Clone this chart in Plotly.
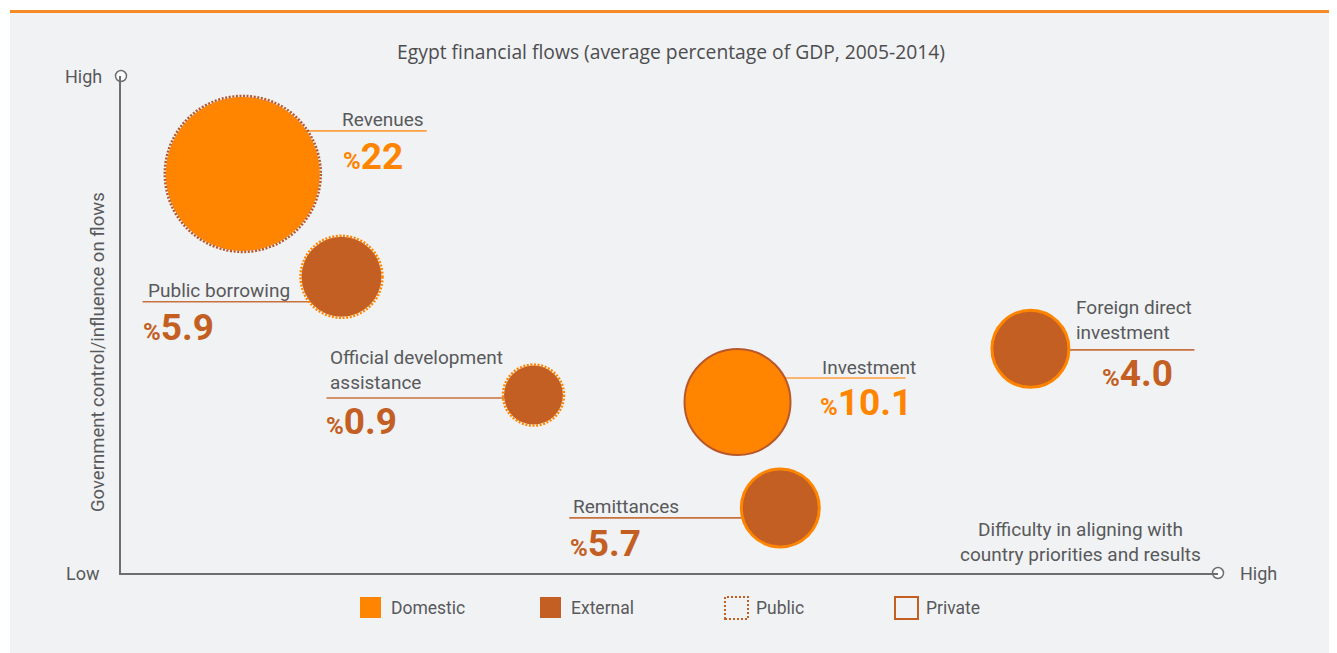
import plotly.graph_objects as go

# ---------------- data ----------------
flows = ["Revenues", "Public borrowing", "Official development<br>assistance",
         "Investment", "Remittances", "Foreign direct<br>investment"]
share_gdp = [22, 5.9, 0.9, 10.1, 5.7, 4.0]
share_text = ["22", "5.9", "0.9", "10.1", "5.7", "4.0"]
origin = ["Domestic", "External", "External", "Domestic", "External", "External"]
ownership = ["Public", "Public", "Public", "Private", "Private", "Private"]
# qualitative positions (0 = low, 10 = high)
difficulty = [1.11, 2.01, 3.76, 5.62, 6.01, 8.29]
gov_control = [8.03, 5.96, 3.58, 3.44, 1.31, 4.51]

title_text = "Egypt financial flows (average percentage of GDP, 2005-2014)"
y_title = "Government control/influence on flows"
x_title = "Difficulty in aligning with<br>country priorities and results"
legend_items = ["Domestic", "External", "Public", "Private"]

# ---------------- styles ----------------
FONT = "Roboto"
C_DOM = "#FF8500"
C_EXT = "#C35F23"
C_TXT = "#58595B"
C_AXIS = "#6D6E70"
C_BG = "#F1F2F4"
fill_col = {"Domestic": C_DOM, "External": C_EXT}
line_col = {"Domestic": "#FFA040", "External": "#C8703E"}
border_col = {"Domestic": "#B8572A", "External": C_DOM}

bubble_diameter = [154, 80, 59, 106, 78, 77]   # px, as drawn in the infographic

# label layout relative to bubble centre (px; dy positive = up)
# (name_dx, name_dy, name_anchor, value_dx, value_dy, line_dx0, line_dx1, line_dy)
label_layout = [
    (183, 54, "right", 98, 17, 50, 184, 43),
    (-196, -14, "left", -201, -51, -199, -10, -25),
    (-205, 25, "left", -209, -26, -207, -10, -3),
    (180, 35, "right", 80, 0, 30, 168, 24),
    (-209, 1, "left", -212, -36, -211, -10, -10),
    (44, 29, "left", 70, -25, 10, 164, -1),
]

OFF = 8                      # page body margin in the browser
W, H = 1337 - OFF, 653 - OFF
ML, MT = 121 - OFF, 76 - OFF
PW, PH = 1097, 497
MR = W - ML - PW
MB = H - MT - PH


def px_x(px):
    """screen x (reference picture) -> paper x"""
    return (px - OFF - ML) / PW


def px_y(py):
    """screen y (reference picture) -> paper y"""
    return (MT + PH - (py - OFF)) / PH


fig = go.Figure()

# bubbles
for org in ["Domestic", "External"]:
    idx = [i for i in range(len(flows)) if origin[i] == org]
    fig.add_trace(go.Scatter(
        x=[difficulty[i] for i in idx],
        y=[gov_control[i] for i in idx],
        mode="markers",
        name=org,
        showlegend=False,
        cliponaxis=False,
        text=[flows[i].replace("<br>", " ") for i in idx],
        customdata=[share_gdp[i] for i in idx],
        hovertemplate="%{text}: %{customdata}% of GDP<extra></extra>",
        marker=dict(
            size=[bubble_diameter[i] for i in idx],
            color=fill_col[org],
            opacity=1,
            line=dict(
                color=[border_col[org] for i in idx],
                width=[0 if ownership[i] == "Public" else (2 if org == "Domestic" else 3) for i in idx],
            ),
        ),
    ))

# axis end circles
fig.add_trace(go.Scatter(
    x=[0, 10], y=[10, 0], mode="markers", showlegend=False, hoverinfo="skip",
    cliponaxis=False,
    marker=dict(size=11, color="white", line=dict(color=C_AXIS, width=1.5)),
))

shapes = []
# panel background and top orange rule
shapes.append(dict(type="rect", xref="paper", yref="paper", layer="below",
                   x0=px_x(10), x1=px_x(1337 + 5), y0=px_y(653 + 5), y1=px_y(12),
                   fillcolor=C_BG, line=dict(width=0)))
shapes.append(dict(type="rect", xref="paper", yref="paper", layer="below",
                   x0=px_x(10), x1=px_x(1337 + 5), y0=px_y(13), y1=px_y(10),
                   fillcolor="#F68B26", line=dict(width=0)))

annotations = []
for i in range(len(flows)):
    ndx, ndy, nanc, vdx, vdy, l0, l1, ldy = label_layout[i]
    col = fill_col[origin[i]]
    shapes.append(dict(type="line", xref="x", yref="y", layer="below",
                       xsizemode="pixel", ysizemode="pixel",
                       xanchor=difficulty[i], yanchor=gov_control[i],
                       x0=l0, x1=l1, y0=ldy, y1=ldy,
                       line=dict(color=line_col[origin[i]], width=1.6)))
    if ownership[i] == "Public":
        r = bubble_diameter[i] / 2 + 1
        shapes.append(dict(type="circle", xref="x", yref="y", layer="above",
                           xsizemode="pixel", ysizemode="pixel",
                           xanchor=difficulty[i], yanchor=gov_control[i],
                           x0=-r, x1=r, y0=-r, y1=r,
                           line=dict(color=border_col[origin[i]], width=2.5, dash="2px,1.6px")))
    annotations.append(dict(
        x=difficulty[i], y=gov_control[i], xref="x", yref="y",
        xshift=ndx, yshift=ndy, xanchor=nanc, yanchor="middle", align="left",
        text=flows[i], showarrow=False,
        font=dict(family=FONT, size=19, color=C_TXT),
    ))
    annotations.append(dict(
        x=difficulty[i], y=gov_control[i], xref="x", yref="y",
        xshift=vdx, yshift=vdy, xanchor="left", yanchor="middle",
        text="<b><span style='font-size:24px'>%</span>" + share_text[i] + "</b>",
        showarrow=False,
        font=dict(family=FONT, size=37, color=col),
    ))

annotations += [
    dict(x=0, y=1, xref="paper", yref="paper", xshift=-17, xanchor="right", yanchor="middle",
         text="High", showarrow=False, font=dict(family=FONT, size=18, color=C_TXT)),
    dict(x=0, y=0, xref="paper", yref="paper", xshift=-19, xanchor="right", yanchor="middle",
         text="Low", showarrow=False, font=dict(family=FONT, size=18, color=C_TXT)),
    dict(x=1, y=0, xref="paper", yref="paper", xshift=20, xanchor="left", yanchor="middle",
         text="High", showarrow=False, font=dict(family=FONT, size=18, color=C_TXT)),
    dict(x=0, y=px_y(352), xref="paper", yref="paper", xshift=-23, xanchor="center", yanchor="middle",
         text=y_title, textangle=-90, showarrow=False, font=dict(family=FONT, size=18.5, color=C_TXT)),
    dict(x=px_x(1080), y=px_y(542), xref="paper", yref="paper", xanchor="center", yanchor="middle",
         text=x_title, align="center", showarrow=False, font=dict(family=FONT, size=19, color=C_TXT)),
]

# custom legend
legend_x = [360, 540, 724, 894]
ly = 608
for name, lx in zip(legend_items, legend_x):
    if name in ("Domestic", "External"):
        shapes.append(dict(type="rect", xref="paper", yref="paper",
                           x0=px_x(lx), x1=px_x(lx + 21), y0=px_y(ly + 10), y1=px_y(ly - 11),
                           fillcolor=fill_col[name], line=dict(width=0)))
        tx = lx + 29
    else:
        dash = "2px,2px" if name == "Public" else "solid"
        shapes.append(dict(type="rect", xref="paper", yref="paper",
                           x0=px_x(lx + 1), x1=px_x(lx + 24), y0=px_y(ly + 11), y1=px_y(ly - 11),
                           fillcolor="rgba(0,0,0,0)",
                           line=dict(color=C_EXT, width=2, dash=dash)))
        tx = lx + 30
    annotations.append(dict(x=px_x(tx), y=px_y(ly), xref="paper", yref="paper",
                            xanchor="left", yanchor="middle", text=name, showarrow=False,
                            font=dict(family=FONT, size=17.5, color=C_TXT)))

fig.update_layout(
    width=W, height=H,
    margin=dict(l=ML, r=MR, t=MT, b=MB),
    paper_bgcolor="white",
    plot_bgcolor="rgba(0,0,0,0)",
    title=dict(text=title_text, x=px_x(671), xref="paper", xanchor="center",
               y=1 - (52 - OFF) / H, yanchor="middle",
               font=dict(family="Open Sans", size=19.3, color="#4D4D4F")),
    xaxis=dict(range=[0, 10], showgrid=False, zeroline=False, showticklabels=False,
               ticks="", showline=True, linecolor=C_AXIS, linewidth=1.5, fixedrange=True),
    yaxis=dict(range=[0, 10], showgrid=False, zeroline=False, showticklabels=False,
               ticks="", showline=True, linecolor=C_AXIS, linewidth=1.5, fixedrange=True),
    shapes=shapes,
    annotations=annotations,
    showlegend=False,
)

fig.write_html("out.html")
